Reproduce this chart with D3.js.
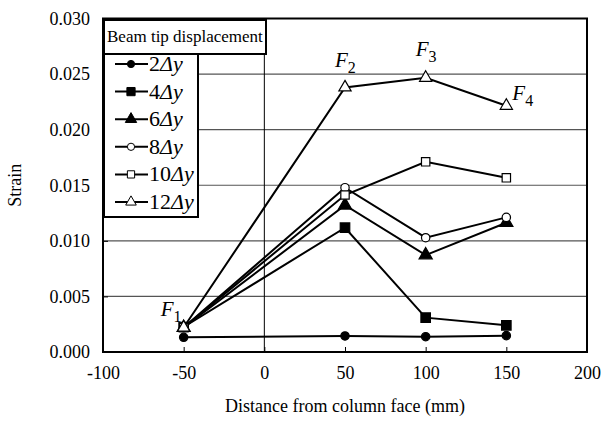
<!DOCTYPE html>
<html>
<head>
<meta charset="utf-8">
<script src="https://cdn.jsdelivr.net/npm/d3@7"></script>
<style>
  body { margin: 0; background: #fff; }
</style>
</head>
<body>
<script>
// data
const distances = [-50, 50, 100, 150];
const seriesNames = ["2", "4", "6", "8", "10", "12"];
const strain2 = [0.00132, 0.00144, 0.00138, 0.00147];
const strain4 = [0.00225, 0.01118, 0.00309, 0.0024];
const strain6 = [0.0022, 0.0132, 0.00872, 0.01163];
const strain8 = [0.0022, 0.01478, 0.01028, 0.01211];
const strain10 = [0.0022, 0.01412, 0.01711, 0.01567];
const strain12 = [0.0022, 0.0238, 0.02467, 0.02215];
const xTicks = [-100, -50, 0, 50, 100, 150, 200];
const yTicks = [0, 0.005, 0.01, 0.015, 0.02, 0.025, 0.03];
const fLabels = [
  { name: "1", x: -50, y: 0.0022 },
  { name: "2", x: 50, y: 0.0238 },
  { name: "3", x: 100, y: 0.02467 },
  { name: "4", x: 150, y: 0.02215 }
];

const series = [
  { name: seriesNames[0], values: strain2, shape: d3.symbolCircle, fill: "#000", size: 55 },
  { name: seriesNames[1], values: strain4, shape: d3.symbolSquare, fill: "#000", size: 90 },
  { name: seriesNames[2], values: strain6, shape: d3.symbolTriangle, fill: "#000", size: 75 },
  { name: seriesNames[3], values: strain8, shape: d3.symbolCircle, fill: "#fff", size: 55 },
  { name: seriesNames[4], values: strain10, shape: d3.symbolSquare, fill: "#fff", size: 70 },
  { name: seriesNames[5], values: strain12, shape: d3.symbolTriangle, fill: "#fff", size: 65 }
];

const W = 605, H = 423;
const mLeft = 103, mRight = 587, mTop = 18.5, mBottom = 352;
const FONT = '"Liberation Serif", "Times New Roman", serif';

const svg = d3.select("body").append("svg")
  .attr("width", W)
  .attr("height", H)
  .style("font-family", FONT);

const x = d3.scaleLinear().domain([-100, 200]).range([mLeft, mRight]);
const y = d3.scaleLinear().domain([0, 0.03]).range([mBottom, mTop]);

// grid
svg.append("g")
  .selectAll("line")
  .data(yTicks.slice(1, -1))
  .join("line")
  .attr("x1", mLeft).attr("x2", mRight)
  .attr("y1", d => y(d)).attr("y2", d => y(d))
  .attr("stroke", "#555").attr("stroke-width", 1.2);

// x = 0 line
svg.append("line")
  .attr("x1", x(0)).attr("x2", x(0))
  .attr("y1", mTop).attr("y2", mBottom)
  .attr("stroke", "#000").attr("stroke-width", 1);

// axes (hyphen minus like the original)
const xAxis = svg.append("g")
  .attr("transform", `translate(0,${mBottom})`)
  .call(d3.axisBottom(x).tickValues(xTicks).tickSize(-5).tickPadding(14).tickFormat(d => String(d)));
const yAxis = svg.append("g")
  .attr("transform", `translate(${mLeft},0)`)
  .call(d3.axisLeft(y).tickValues(yTicks).tickSize(-5).tickPadding(13).tickFormat(d => d.toFixed(3)));
[xAxis, yAxis].forEach(a => {
  a.attr("font-family", null);
  a.select(".domain").remove();
  a.selectAll("line").attr("stroke", "#000").attr("stroke-width", 1);
  a.selectAll("text").attr("font-size", 18).attr("fill", "#000");
});

// frame
svg.append("rect")
  .attr("x", mLeft).attr("y", mTop)
  .attr("width", mRight - mLeft).attr("height", mBottom - mTop)
  .attr("fill", "none").attr("stroke", "#000").attr("stroke-width", 2);

// lines + markers
const line = d3.line().x((d, i) => x(distances[i])).y(d => y(d));
series.forEach(s => {
  svg.append("path")
    .datum(s.values)
    .attr("d", line)
    .attr("fill", "none").attr("stroke", "#000").attr("stroke-width", 2);
  svg.append("g")
    .selectAll("path")
    .data(s.values)
    .join("path")
    .attr("transform", (d, i) => `translate(${x(distances[i])},${y(d)})`)
    .attr("d", d3.symbol().type(s.shape).size(s.size))
    .attr("fill", s.fill).attr("stroke", "#000").attr("stroke-width", 1.2);
});

// F labels
const fOffsets = { "1": [-23, -12], "2": [-10, -20], "3": [-10, -22], "4": [6, -6] };
fLabels.forEach(f => {
  const o = fOffsets[f.name];
  const t = svg.append("text")
    .attr("x", x(f.x) + o[0]).attr("y", y(f.y) + o[1])
    .attr("font-size", 21);
  t.append("tspan").attr("font-style", "italic").text("F");
  t.append("tspan").attr("font-size", 16).attr("dy", 6).text(f.name);
});

// legend
const legend = svg.append("g");
legend.append("rect")
  .attr("x", 104).attr("y", 20).attr("width", 162).attr("height", 34)
  .attr("fill", "#fff").attr("stroke", "#000").attr("stroke-width", 2);
legend.append("text")
  .attr("x", 107).attr("y", 42)
  .attr("font-size", 17)
  .text("Beam tip displacement");
legend.append("rect")
  .attr("x", 104).attr("y", 54).attr("width", 94).attr("height", 163)
  .attr("fill", "#fff").attr("stroke", "#000").attr("stroke-width", 2);

series.forEach((s, i) => {
  const yy = 64 + i * 27.6;
  legend.append("line")
    .attr("x1", 115).attr("x2", 148).attr("y1", yy).attr("y2", yy)
    .attr("stroke", "#000").attr("stroke-width", 2);
  legend.append("path")
    .attr("transform", `translate(131,${yy})`)
    .attr("d", d3.symbol().type(s.shape).size(s.size * 0.75))
    .attr("fill", s.fill).attr("stroke", "#000").attr("stroke-width", 1);
  const t = legend.append("text")
    .attr("x", 149).attr("y", yy + 7)
    .attr("font-size", 22);
  t.append("tspan").text(s.name);
  t.append("tspan").attr("font-style", "italic").text("Δy");
});

// axis titles
svg.append("text")
  .attr("transform", `translate(21,${(mTop + mBottom) / 2}) rotate(-90)`)
  .attr("text-anchor", "middle")
  .attr("font-size", 18)
  .text("Strain");
svg.append("text")
  .attr("x", (mLeft + mRight) / 2).attr("y", 412)
  .attr("text-anchor", "middle")
  .attr("font-size", 18)
  .text("Distance from column face (mm)");

svg.selectAll("text").style("font-family", FONT);
</script>
</body>
</html>
